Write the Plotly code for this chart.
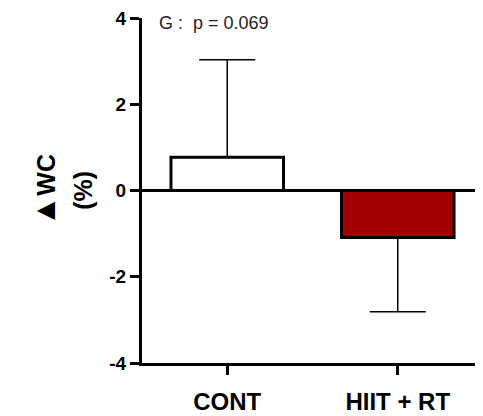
import plotly.graph_objects as go

categories = ["CONT", "HIIT + RT"]
means = [0.77, -1.09]
err_plus = [2.26, 0.0]
err_minus = [0.0, 1.72]
fills = ["#FFFFFF", "#A00000"]
y_ticks = [-4, -2, 0, 2, 4]
y_tick_text = ["-4", "-2", "0", "2", "4"]
y_title_1 = '<span style="font-size:31px">▲</span>WC'
y_title_2 = "(%)"
note = "G :  p = 0.069"

FONT = "Liberation Sans, Arial, Helvetica, sans-serif"

fig = go.Figure()
fig.add_trace(go.Bar(
    x=[0, 1], y=means, width=0.66,
    marker=dict(color=fills, line=dict(color="black", width=3)),
    error_y=dict(type="data", symmetric=False, array=err_plus, arrayminus=err_minus,
                 color="black", thickness=1.5, width=28),
    showlegend=False,
))

fig.update_layout(
    width=475, height=408,
    margin=dict(l=134, r=0, t=7, b=53),
    paper_bgcolor="white", plot_bgcolor="white",
    font=dict(family=FONT, color="black"),
    xaxis=dict(range=[-0.5, 1.5], tickvals=[0, 1], ticktext=categories,
               showline=True, linewidth=3, linecolor="black",
               ticks="outside", ticklen=9, tickwidth=3, tickcolor="black",
               showgrid=False, zeroline=False,
               tickfont=dict(size=24, family=FONT, weight="bold"),
               ticklabelstandoff=6),
    yaxis=dict(range=[-4, 4], tickvals=y_ticks, ticktext=y_tick_text,
               showline=True, linewidth=3, linecolor="black",
               ticks="outside", ticklen=9, tickwidth=3, tickcolor="black",
               showgrid=False, zeroline=True, zerolinewidth=3, zerolinecolor="black",
               ticklabeloverflow="allow",
               tickfont=dict(size=19, family=FONT, weight="bold")),
    annotations=[
        dict(text=note, xref="paper", yref="y", x=0.045, y=3.88,
             xanchor="left", yanchor="middle", showarrow=False,
             font=dict(size=18, family=FONT, color="#222222")),
        dict(text=y_title_1, xref="paper", yref="paper", x=-0.285, y=0.5,
             xanchor="center", yanchor="middle", textangle=-90, showarrow=False,
             font=dict(size=25, family=FONT, weight="bold", color="black")),
        dict(text=y_title_2, xref="paper", yref="paper", x=-0.175, y=0.5,
             xanchor="center", yanchor="middle", textangle=-90, showarrow=False,
             font=dict(size=25, family=FONT, weight="bold", color="black")),
    ],
)

fig.write_html("out.html")
